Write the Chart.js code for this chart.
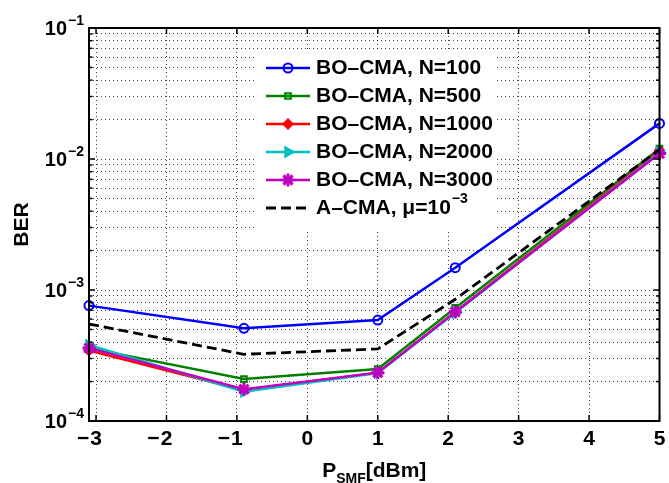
<!DOCTYPE html>
<html>
<head>
<meta charset="utf-8">
<script src="https://cdn.jsdelivr.net/npm/chart.js@4.4.1/dist/chart.umd.min.js"></script>
<style>
html, body { margin: 0; padding: 0; background: #fff; }
canvas { display: block; }
</style>
</head>
<body>
<canvas id="berChart" width="669" height="483"></canvas>
<script>
// launch power points (dBm)
var powerLevels = [-3.1, -0.9, 1, 2.1, 5];

// BER
var berN100  = [7.6e-4, 5.1e-4, 5.9e-4, 1.48e-3, 1.87e-2];
var berN500  = [3.6e-4, 2.09e-4, 2.49e-4, 7.3e-4, 1.2e-2];
var berN1000 = [3.45e-4, 1.72e-4, 2.34e-4, 6.8e-4, 1.15e-2];
var berN2000 = [3.8e-4, 1.67e-4, 2.32e-4, 6.7e-4, 1.12e-2];
var berN3000 = [3.6e-4, 1.75e-4, 2.34e-4, 6.8e-4, 1.1e-2];
var berACMA  = [5.5e-4, 3.23e-4, 3.55e-4, 8.5e-4, 1.18e-2];

var seriesNames = ['BO\u2013CMA, N=100', 'BO\u2013CMA, N=500', 'BO\u2013CMA, N=1000',
    'BO\u2013CMA, N=2000', 'BO\u2013CMA, N=3000', 'A\u2013CMA, \u03bc=10'];
var legendSuperscripts = ['', '', '', '', '', '\u22123'];

var xTickValues = [-3, -2, -1, 0, 1, 2, 3, 4, 5];
var yDecades = [-4, -3, -2, -1];
var yMinorSteps = [2, 3, 4, 5, 6, 7, 8, 9];

var FONT = "'Liberation Sans', Arial, Helvetica, sans-serif";

function toPoints(values) {
    return powerLevels.map(function (x, i) { return { x: x, y: values[i] }; });
}

function makeSeries(label, values, color, style, order) {
    return {
        label: label,
        data: toPoints(values),
        borderColor: color,
        backgroundColor: color,
        borderWidth: style.width || 2.5,
        pointStyle: style.pointStyle,
        pointRadius: style.radius,
        pointRotation: style.rotation || 0,
        pointBorderWidth: style.borderWidth || 2,
        pointBackgroundColor: style.fill ? color : 'rgba(0,0,0,0)',
        pointBorderColor: color,
        borderDash: style.dash || [],
        tension: 0,
        clip: false,
        order: order
    };
}

var datasets = [
    makeSeries(seriesNames[0], berN100, '#0000ff', { pointStyle: 'circle', radius: 4.5 }, 6),
    makeSeries(seriesNames[1], berN500, '#008000', { pointStyle: 'rect', radius: 4 }, 5),
    makeSeries(seriesNames[2], berN1000, '#ff0000', { pointStyle: 'rectRot', radius: 4.5, fill: true }, 4),
    makeSeries(seriesNames[3], berN2000, '#00bfbf', { pointStyle: 'triangle', radius: 5.5, rotation: 90, fill: true }, 3),
    makeSeries(seriesNames[4], berN3000, '#bf00bf', { pointStyle: 'star', radius: 6.5, borderWidth: 3 }, 2),
    makeSeries(seriesNames[5], berACMA, '#000000', { pointStyle: false, radius: 0, dash: [10, 5], width: 2.8 }, 1)
];

function strokeLine(ctx, x1, y1, x2, y2) {
    ctx.beginPath();
    ctx.moveTo(x1, y1);
    ctx.lineTo(x2, y2);
    ctx.stroke();
}

var matlabLook = {
    id: 'matlabLook',
    afterDraw: function (chart) {
        var ctx = chart.ctx;
        var a = chart.chartArea;
        var xs = chart.scales.x;
        var ys = chart.scales.y;
        ctx.save();

        // legend box (covers the grid like matlab)
        var lx = 255, ly = 52, lw = 242, lh = 180;
        ctx.fillStyle = '#fff';
        ctx.fillRect(lx, ly, lw, lh);
        var rowY = 68;
        datasets.forEach(function (ds, i) {
            var y = rowY + i * 28;
            ctx.strokeStyle = ds.borderColor;
            ctx.lineWidth = ds.borderWidth;
            ctx.setLineDash(ds.borderDash);
            strokeLine(ctx, 266, y, 310, y);
            ctx.setLineDash([]);
            if (ds.pointStyle && Chart.helpers && Chart.helpers.drawPoint) {
                ctx.fillStyle = ds.pointBackgroundColor;
                ctx.strokeStyle = ds.pointBorderColor;
                ctx.lineWidth = ds.pointBorderWidth;
                Chart.helpers.drawPoint(ctx, {
                    pointStyle: ds.pointStyle,
                    radius: ds.pointRadius,
                    rotation: ds.pointRotation,
                    borderWidth: ds.pointBorderWidth
                }, 288, y);
            }
            ctx.fillStyle = '#000';
            ctx.font = 'bold 21px ' + FONT;
            ctx.textAlign = 'left';
            ctx.textBaseline = 'middle';
            ctx.fillText(seriesNames[i], 316, y);
            if (legendSuperscripts[i]) {
                var w = ctx.measureText(seriesNames[i]).width;
                ctx.font = 'bold 14px ' + FONT;
                ctx.fillText(legendSuperscripts[i], 316 + w + 1, y - 9);
            }
        });

        // inward tick marks
        ctx.strokeStyle = '#000';
        ctx.lineWidth = 1.5;
        xTickValues.forEach(function (v) {
            var px = xs.getPixelForValue(v);
            strokeLine(ctx, px, a.bottom, px, a.bottom - 6);
            strokeLine(ctx, px, a.top, px, a.top + 6);
        });
        ys.ticks.forEach(function (t) {
            var py = ys.getPixelForValue(t.value);
            var len = t.major ? 6 : 3.5;
            strokeLine(ctx, a.left, py, a.left + len, py);
            strokeLine(ctx, a.right, py, a.right - len, py);
        });

        // axes box
        ctx.lineWidth = 2;
        ctx.strokeRect(a.left, a.top, a.right - a.left, a.bottom - a.top);

        // y tick labels 10^k
        ctx.fillStyle = '#000';
        ctx.textBaseline = 'alphabetic';
        yDecades.forEach(function (e) {
            var py = ys.getPixelForValue(Math.pow(10, e));
            ctx.font = 'bold 20px ' + FONT;
            ctx.textAlign = 'right';
            ctx.fillText('10', 67, py + 7);
            ctx.font = 'bold 14px ' + FONT;
            ctx.textAlign = 'left';
            ctx.fillText('\u2212' + Math.abs(e), 68, py - 3);
        });

        // x tick labels, minus hangs left of the digit
        ctx.font = 'bold 21px ' + FONT;
        xTickValues.forEach(function (v) {
            var px = xs.getPixelForValue(v);
            var digit = String(Math.abs(v));
            ctx.textAlign = 'center';
            ctx.fillText(digit, px, a.bottom + 24);
            if (v < 0) {
                var dw = ctx.measureText(digit).width;
                ctx.textAlign = 'right';
                ctx.fillText('\u2212', px - dw / 2 - 1, a.bottom + 24);
            }
        });

        // x axis title P_SMF[dBm]
        var big = 'bold 21px ' + FONT, small = 'bold 14px ' + FONT;
        ctx.font = big;
        var wP = ctx.measureText('P').width;
        var wU = ctx.measureText('[dBm]').width;
        ctx.font = small;
        var wS = ctx.measureText('SMF').width;
        var startX = (a.left + a.right) / 2 - (wP + wS + wU) / 2;
        ctx.textAlign = 'left';
        ctx.font = big;
        ctx.fillText('P', startX, 477);
        ctx.font = small;
        ctx.fillText('SMF', startX + wP, 483);
        ctx.font = big;
        ctx.fillText('[dBm]', startX + wP + wS, 477);

        // y axis title
        ctx.translate(22, (a.top + a.bottom) / 2);
        ctx.rotate(-Math.PI / 2);
        ctx.textAlign = 'center';
        ctx.textBaseline = 'middle';
        ctx.font = 'bold 21px ' + FONT;
        ctx.fillText('BER', 0, 0);

        ctx.restore();
    }
};

var ctx = document.getElementById('berChart').getContext('2d');
var berChart = new Chart(ctx, {
    type: 'line',
    data: { datasets: datasets },
    plugins: [matlabLook],
    options: {
        responsive: false,
        devicePixelRatio: 1,
        animation: false,
        events: [],
        layout: { padding: { top: 28, right: 8, left: 0, bottom: 0 } },
        plugins: {
            legend: { display: false },
            tooltip: { enabled: false }
        },
        scales: {
            x: {
                type: 'linear',
                min: -3.1,
                max: 5,
                afterBuildTicks: function (scale) {
                    scale.ticks = xTickValues.map(function (v) { return { value: v }; });
                },
                afterFit: function (scale) { scale.height = 62; },
                ticks: { display: false },
                grid: { color: 'rgba(0,0,0,0.75)', lineWidth: 1, drawTicks: false },
                border: { display: false, dash: [1, 3] }
            },
            y: {
                type: 'logarithmic',
                min: 1e-4,
                max: 1e-1,
                afterBuildTicks: function (scale) {
                    var t = [];
                    yDecades.forEach(function (e) {
                        t.push({ value: Math.pow(10, e), major: true });
                        if (e < -1) {
                            yMinorSteps.forEach(function (m) {
                                t.push({ value: m * Math.pow(10, e), major: false });
                            });
                        }
                    });
                    scale.ticks = t;
                },
                afterFit: function (scale) { scale.width = 89; },
                ticks: { display: false },
                grid: { color: 'rgba(0,0,0,0.75)', lineWidth: 1, drawTicks: false },
                border: { display: false, dash: [1, 3] }
            }
        }
    }
});
</script>
</body>
</html>
